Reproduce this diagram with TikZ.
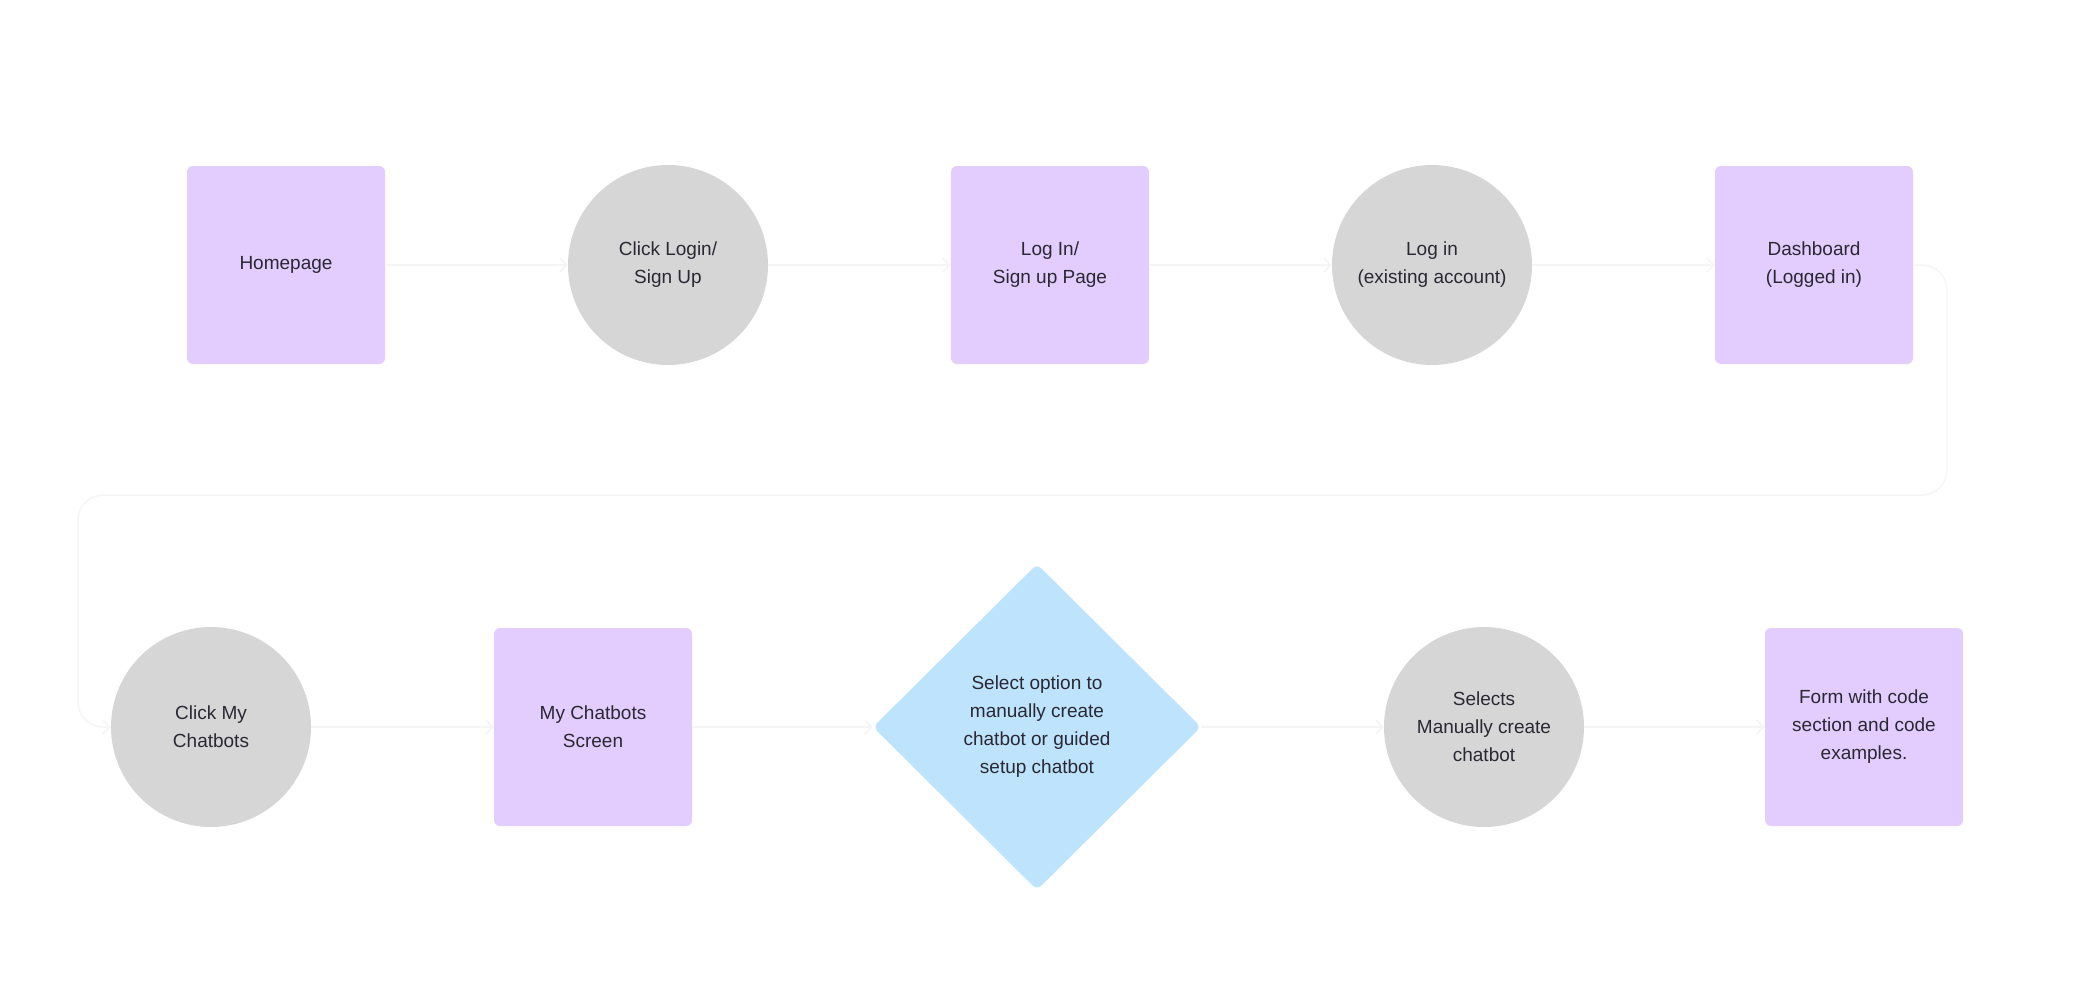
\documentclass[tikz,border=0pt]{standalone}
\usepackage{fontspec}
\setmainfont{Liberation Sans}
\usetikzlibrary{shapes.geometric,arrows.meta}
\definecolor{screenfill}{HTML}{E3CCFE}
\definecolor{actionfill}{HTML}{D6D6D6}
\definecolor{choicefill}{HTML}{BDE3FD}
\definecolor{labeltext}{HTML}{2A2833}
\definecolor{flowline}{HTML}{F5F5F7}

\begin{document}
\begin{tikzpicture}[x=1pt,y=-1pt,
    every node/.style={font=\fontsize{19}{28}\selectfont,text=labeltext,align=center},
    screen/.style={rectangle,rounded corners=6pt,fill=screenfill,minimum size=198pt,inner sep=0pt},
    action/.style={circle,fill=actionfill,minimum size=200pt,inner sep=0pt},
    choice/.style={diamond,rounded corners=6pt,fill=choicefill,minimum width=328pt,minimum height=326pt,inner sep=0pt},
    flow/.style={draw=flowline,line width=1.5pt,-{Straight Barb[length=7pt,width=14pt]}}]
    \useasboundingbox (0,0) rectangle (2083,998);

    % Top row: from homepage to dashboard
    \node[screen] (home) at (286,265) {Homepage};
    \node[action] (clicklogin) at (668,265) {Click Login/\\Sign Up};
    \node[screen] (loginpage) at (1050,265) {Log In/\\Sign up Page};
    \node[action] (login) at (1432,265) {Log in\\(existing account)};
    \node[screen] (dash) at (1814,265) {Dashboard\\(Logged in)};

    % Bottom row: chatbot creation
    \node[action] (clickbots) at (211,727) {Click My\\Chatbots};
    \node[screen] (bots) at (593,727) {My Chatbots\\Screen};
    \node[choice] (option) at (1037,727) {Select option to\\manually create\\chatbot or guided\\setup chatbot};
    \node[action] (manual) at (1484,727) {Selects\\Manually create\\chatbot};
    \node[screen] (form) at (1864,727) {Form with code\\section and code\\examples.};

    % Connectors
    \draw[flow] (home) -- (clicklogin);
    \draw[flow] (clicklogin) -- (loginpage);
    \draw[flow] (loginpage) -- (login);
    \draw[flow] (login) -- (dash);
    \draw[flow] (clickbots) -- (bots);
    \draw[flow] (bots) -- (option);
    \draw[flow] (option) -- (manual);
    \draw[flow] (manual) -- (form);

    % Return path from dashboard to second row
    \coordinate (loopright) at (1947,495);
    \coordinate (loopleft) at (78,495);
    \draw[flow,rounded corners=25pt] (dash.east) -| (loopright) -- (loopleft) |- (clickbots.west);
\end{tikzpicture}
\end{document}
